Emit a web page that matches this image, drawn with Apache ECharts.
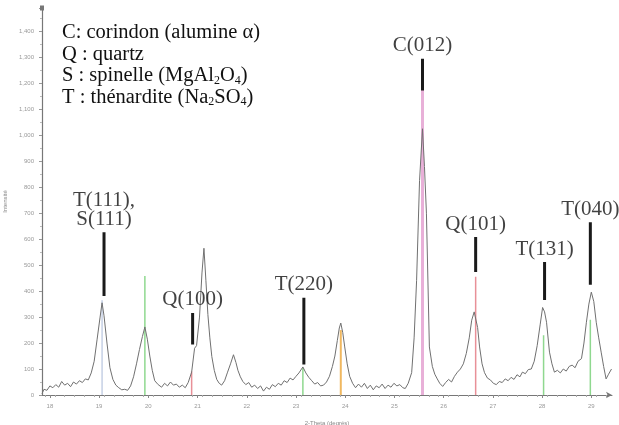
<!DOCTYPE html>
<html><head><meta charset="utf-8">
<script src="https://cdn.jsdelivr.net/npm/echarts@6/dist/echarts.min.js"></script>
<style>html,body{margin:0;padding:0;background:#fff}#c{width:619px;height:425px}</style>
</head><body><div id="c"></div>
<script>
// ---- data ----
const twoTheta = [17.84,17.88,17.94,18.00,18.06,18.12,18.18,18.24,18.30,18.36,18.42,18.48,18.54,18.60,18.66,18.72,18.78,18.84,18.90,18.96,19.02,19.06,19.10,19.16,19.22,19.28,19.34,19.40,19.46,19.52,19.58,19.64,19.70,19.76,19.82,19.88,19.93,19.98,20.03,20.08,20.13,20.20,20.27,20.33,20.39,20.45,20.51,20.57,20.63,20.69,20.75,20.81,20.88,20.94,20.98,21.04,21.09,21.13,21.17,21.21,21.25,21.29,21.34,21.39,21.44,21.49,21.55,21.61,21.67,21.73,21.78,21.82,21.87,21.92,21.98,22.04,22.10,22.16,22.22,22.28,22.34,22.40,22.46,22.52,22.58,22.64,22.70,22.76,22.82,22.88,22.94,23.00,23.06,23.14,23.20,23.26,23.32,23.38,23.44,23.50,23.56,23.62,23.68,23.74,23.79,23.84,23.88,23.91,23.95,23.99,24.04,24.09,24.15,24.21,24.27,24.33,24.39,24.45,24.51,24.57,24.63,24.69,24.75,24.81,24.87,24.93,24.99,25.05,25.11,25.17,25.22,25.28,25.35,25.40,25.45,25.51,25.57,25.61,25.65,25.71,25.77,25.82,25.87,25.92,25.98,26.04,26.10,26.16,26.22,26.28,26.34,26.40,26.46,26.52,26.57,26.62,26.65,26.69,26.73,26.78,26.83,26.89,26.95,27.01,27.07,27.13,27.19,27.25,27.31,27.37,27.43,27.49,27.55,27.60,27.66,27.72,27.78,27.84,27.90,27.96,28.01,28.05,28.09,28.15,28.20,28.25,28.31,28.37,28.43,28.49,28.55,28.61,28.67,28.73,28.80,28.85,28.90,28.95,29.00,29.05,29.10,29.15,29.20,29.25,29.30,29.35,29.41];
const intensity = [5,22,18,35,28,40,30,52,38,45,32,50,42,55,48,62,58,85,130,215,300,355,305,200,105,60,38,28,20,22,18,35,70,120,175,225,262,215,150,95,55,40,30,45,35,50,38,42,30,38,28,48,88,180,190,300,470,565,440,310,220,148,95,60,45,38,55,88,120,155,125,95,70,52,40,48,30,38,25,35,15,30,22,40,32,45,38,55,48,65,58,72,85,108,85,68,55,42,48,35,38,50,72,110,150,210,258,277,240,185,120,72,45,28,42,30,45,25,38,20,35,28,42,25,38,30,45,35,40,28,25,45,86,220,440,825,1025,880,700,185,110,80,62,45,33,48,60,50,72,88,100,120,160,220,288,320,326,260,185,120,86,65,58,45,40,52,48,62,55,68,60,78,70,88,82,98,100,130,190,270,337,320,280,165,120,88,95,85,100,92,110,115,105,130,140,200,280,350,396,360,280,220,165,110,62,80,100];

// reference sticks
const stickPos    = [19.06, 19.93, 20.88, 23.14, 23.91, 25.57, 26.65, 28.03, 28.98];
const stickHeight = [365, 458, 90, 105, 250, 1180, 455, 230, 290];
const stickPhase  = ['S','T','Q','T','O','C','Q','T','T'];

// peak annotations
const annoLabel = ['T(111),\nS(111)','Q(100)','T(220)','C(012)','Q(101)','T(131)','T(040)'];
const annoPos   = [19.10, 20.90, 23.16, 25.57, 26.65, 28.05, 28.98];
const annoLow   = [381, 194, 117, 1172, 474, 366, 424];
const annoHigh  = [627, 316, 374, 1295, 608, 512, 665];

const xTickLabels = [18,19,20,21,22,23,24,25,26,27,28,29];
const legendLines = [
  ['C: corindon (alumine α)'],
  ['Q : quartz'],
  ['S : spinelle (MgAl', '2', 'O', '4', ')'],
  ['T : thénardite (Na', '2', 'SO', '4', ')']
];

// ---- chart ----
const serif = "'Liberation Serif','Times New Roman',serif";
const phaseColor = {S:'#a8b8d8', T:'#8fd88f', Q:'#e89098', O:'#f0b860', C:'#e8b0d8'};
const phaseWidth = {S:1, T:1.5, Q:1.5, O:2, C:3};
const minorX = [];
for (let v = 17.9; v < 29.42; v += 0.2) minorX.push(+v.toFixed(1));

const series = [];
stickPos.forEach((p, i) => {
  series.push({
    type:'line', xAxisIndex:0, yAxisIndex:0, silent:true, symbol:'none', z:1,
    data:[[p,0],[p,stickHeight[i]]],
    lineStyle:{color:phaseColor[stickPhase[i]], width:phaseWidth[stickPhase[i]]}
  });
});
series.push({
  type:'line', xAxisIndex:0, yAxisIndex:0, symbol:'none', z:3,
  data: twoTheta.map((t,i)=>[t,intensity[i]]),
  lineStyle:{color:'#707070', width:1}
});
annoPos.forEach((p,i)=>{
  series.push({
    type:'line', xAxisIndex:0, yAxisIndex:0, symbol:'none', z:4, silent:true,
    data:[[p,annoLow[i]],[p,annoHigh[i]]],
    lineStyle:{color:'#1a1a1a', width:3}
  });
});
series.push({
  type:'scatter', xAxisIndex:0, yAxisIndex:0, z:5, symbolSize:1,
  itemStyle:{color:'rgba(0,0,0,0)'},
  data: annoPos.map((p,i)=>({value:[p,annoHigh[i]], name:annoLabel[i]})),
  label:{show:true, position:'top', distance:3, formatter:p=>p.name,
    fontFamily:serif, fontSize:21, color:'#111', lineHeight:19, align:'center'}
});

const graphics = legendLines.map((parts, i) => {
  let txt = '';
  parts.forEach((s, j) => { txt += (j % 2 === 0) ? '{a|' + s + '}' : '{s|' + s + '}'; });
  return {
    type:'text', left:62, top:22 + i*21.7, z:10,
    style:{text:txt, rich:{
      a:{fontFamily:serif, fontSize:20.5, fill:'#111', lineHeight:22, verticalAlign:'bottom'},
      s:{fontFamily:serif, fontSize:12, fill:'#111', lineHeight:22, verticalAlign:'bottom'}
    }}
  };
});

const chart = echarts.init(document.getElementById('c'), null, {renderer:'canvas'});
chart.setOption({
  animation:false,
  backgroundColor:'#fff',
  grid:{left:42, right:7, top:8, bottom:30, outerBoundsMode:'none', containLabel:false},
  xAxis:[{
    type:'value', min:17.84, max:29.42,
    name:'2-Theta (degrés)', nameLocation:'middle', nameGap:25,
    nameTextStyle:{fontSize:6, color:'#888'},
    axisLine:{show:true, onZero:false, lineStyle:{color:'#777', width:1}, symbol:['none','arrow'], symbolSize:[5,6]},
    axisTick:{show:true, customValues:xTickLabels, length:3, lineStyle:{color:'#888'}},
    axisLabel:{show:true, customValues:xTickLabels, fontSize:6, color:'#999', margin:8},
    splitLine:{show:false}
  },{
    type:'value', min:17.84, max:29.42, position:'bottom',
    axisLine:{show:false}, axisLabel:{show:false}, splitLine:{show:false},
    axisTick:{show:true, customValues:minorX, length:2, lineStyle:{color:'#aaa'}}
  }],
  yAxis:{
    type:'value', min:0, max:1490, interval:100,
    name:'Intensité', nameLocation:'middle', nameGap:28,
    nameTextStyle:{fontSize:6, color:'#888'},
    axisLine:{show:true, lineStyle:{color:'#777', width:1.2}, symbol:['none','rect'], symbolSize:[4,5]},
    axisTick:{show:true, length:3, lineStyle:{color:'#999'}},
    minorTick:{show:true, splitNumber:2, length:2, lineStyle:{color:'#bbb'}},
    axisLabel:{fontSize:6, color:'#999', margin:8, showMaxLabel:false},
    splitLine:{show:false}
  },
  graphic: graphics,
  series: series
});
</script>
</body></html>
